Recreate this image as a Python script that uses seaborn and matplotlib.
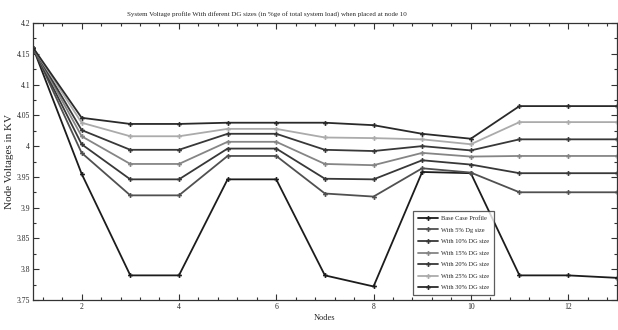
import numpy as np
import pandas as pd
import matplotlib
matplotlib.use("Agg")
import matplotlib.pyplot as plt
from matplotlib.ticker import MultipleLocator, FuncFormatter
import seaborn as sns

nodes = list(range(1, 14))

base_case = [4.160, 3.955, 3.790, 3.790, 3.946, 3.946, 3.790, 3.772, 3.958, 3.956, 3.790, 3.790, 3.786]
dg_5 = [4.160, 3.989, 3.920, 3.920, 3.984, 3.984, 3.923, 3.918, 3.964, 3.957, 3.925, 3.925, 3.925]
dg_10 = [4.160, 4.003, 3.946, 3.946, 3.996, 3.996, 3.947, 3.946, 3.977, 3.970, 3.956, 3.956, 3.956]
dg_15 = [4.160, 4.016, 3.971, 3.971, 4.007, 4.007, 3.971, 3.969, 3.989, 3.983, 3.984, 3.984, 3.984]
dg_20 = [4.160, 4.026, 3.994, 3.994, 4.020, 4.020, 3.994, 3.992, 4.000, 3.993, 4.011, 4.011, 4.011]
dg_25 = [4.160, 4.038, 4.016, 4.016, 4.028, 4.028, 4.014, 4.013, 4.011, 4.003, 4.039, 4.039, 4.039]
dg_30 = [4.160, 4.046, 4.036, 4.036, 4.038, 4.038, 4.038, 4.034, 4.020, 4.012, 4.065, 4.065, 4.065]

series_names = ["Base Case Profile", "With 5% Dg size", "With 10% DG size",
                "With 15% DG size", "With 20% DG size", "With 25% DG size",
                "With 30% DG size"]
series_values = [base_case, dg_5, dg_10, dg_15, dg_20, dg_25, dg_30]
series_colors = ["#1c1c1c", "#505050", "#383838", "#858585", "#383838", "#ababab", "#2a2a2a"]

df = pd.DataFrame({
    "Node": np.tile(nodes, len(series_names)),
    "Voltage": np.concatenate(series_values),
    "Series": np.repeat(series_names, len(nodes)),
})

sns.set_style("ticks")
plt.rcParams["font.family"] = ["Liberation Serif", "DejaVu Serif"]

fig = plt.figure(figsize=(6.18, 3.30), dpi=100)
ax = fig.add_axes([33 / 618, 1 - 300 / 330, 1 - 33 / 618 - 0.002, (300 - 23) / 330])

for name, color in zip(series_names, series_colors):
    sns.lineplot(data=df[df["Series"] == name], x="Node", y="Voltage", ax=ax,
                 color=color, lw=1.3, marker="P", markersize=3.5,
                 markeredgewidth=0, label=name)

ax.set_xlim(1, 13)
ax.set_ylim(3.75, 4.2)
ax.xaxis.set_major_locator(MultipleLocator(2))
ax.xaxis.set_minor_locator(MultipleLocator(0.4))
ax.yaxis.set_major_locator(MultipleLocator(0.05))
ax.yaxis.set_minor_locator(MultipleLocator(0.025))
ax.yaxis.set_major_formatter(FuncFormatter(lambda v, p: f"{v:g}"))
ax.xaxis.set_major_formatter(FuncFormatter(lambda v, p: "" if v < 2 or v > 12 else f"{v:g}"))

ax.tick_params(which="both", direction="in", top=True, right=True, color="#333333")
ax.tick_params(which="major", length=4, width=0.8, labelsize=5.5, pad=2)
ax.tick_params(which="minor", length=2.5, width=0.8)
for s in ax.spines.values():
    s.set_color("#333333")
    s.set_linewidth(0.9)

ax.set_xlabel("Nodes", fontsize=6, labelpad=2)
ax.set_ylabel("Node Voltages in KV", fontsize=8, labelpad=2)
ax.set_title("System Voltage profile With diferent DG sizes (in %ge of total system load) when placed at node 10",
             fontsize=5, pad=5, x=0.40)

leg = ax.legend(loc="lower left", bbox_to_anchor=(0.646, 0.007), fontsize=4.6,
                frameon=True, fancybox=False, edgecolor="#333333",
                handlelength=3.2, borderpad=0.7, labelspacing=0.95, handletextpad=0.5)
leg.get_frame().set_linewidth(0.9)

fig.savefig("out.png", dpi=100)
